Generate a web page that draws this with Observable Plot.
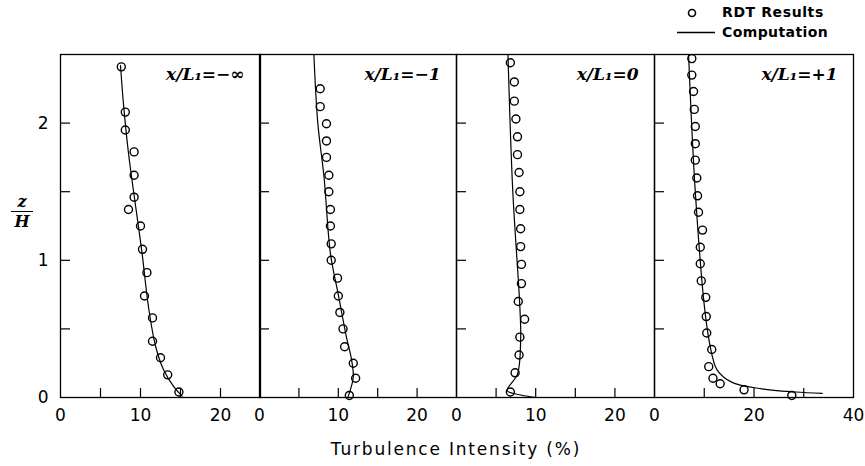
<!DOCTYPE html>
<html>
<head>
<meta charset="utf-8">
<script src="https://cdn.jsdelivr.net/npm/d3@7"></script>
<script src="https://cdn.jsdelivr.net/npm/@observablehq/plot@0.6"></script>
<style>
  body { margin: 0; background: #fff; }
  #chart { position: relative; width: 865px; height: 466px; color: #000; font-family: "DejaVu Sans", sans-serif; overflow: hidden; }
  #chart svg { position: absolute; top: 0; }
  .abs { position: absolute; white-space: nowrap; }
  .serif { font-family: "DejaVu Serif", serif; font-weight: bold; font-style: italic; }
</style>
</head>
<body>
<div id="chart">
  <svg class="legend-mark" width="865" height="45" style="left:0">
    <circle cx="692" cy="13" r="3.5" fill="none" stroke="#000" stroke-width="1.6"></circle>
    <line x1="677" x2="715" y1="32.5" y2="32.5" stroke="#000" stroke-width="1.3"></line>
  </svg>
  <div class="abs" style="left:722px; top:3px; font-size:14px; font-weight:bold; letter-spacing:0.6px; line-height:18px;">RDT Results</div>
  <div class="abs" style="left:722px; top:23px; font-size:14px; font-weight:bold; letter-spacing:0.4px; line-height:18px;">Computation</div>
  <div class="abs serif" style="left:11px; width:22px; top:193px; font-size:16px; line-height:18px; text-align:center; border-bottom:1.3px solid #000;">z</div>
  <div class="abs serif" style="left:11px; width:22px; top:213px; font-size:16px; line-height:18px; text-align:center;">H</div>
  <div class="abs" id="xtitle" style="left:456px; top:439px; transform:translateX(-50%); font-size:17px; letter-spacing:1.8px; line-height:20px;">Turbulence Intensity (%)</div>
</div>
<script>
// Panel labels (streamwise station x/L1)
const panelLabels = ["x/L₁=−∞", "x/L₁=−1", "x/L₁=0", "x/L₁=+1"];

// Axis extents and tick values for each panel
const xMaxima = [25, 25, 25, 40];
const xMinorTicks = [[5, 10, 15, 20], [5, 10, 15, 20], [5, 10, 15, 20], [10, 20, 30]];
const xTickLabels = [[0, 10, 20], [0, 10, 20], [0, 10, 20], [0, 20, 40]];
const yMinorTicks = [0.5, 1, 1.5, 2];
const yTickLabels = [0, 1, 2];

// RDT results: [turbulence intensity %, z/H]
const rdtUpstream = [[7.6,2.41],[8.1,2.08],[8.1,1.95],[9.2,1.79],[9.2,1.62],[9.2,1.46],[8.5,1.37],[10.0,1.25],[10.25,1.08],[10.8,0.91],[10.5,0.74],[11.5,0.58],[11.5,0.41],[12.5,0.29],[13.4,0.165],[14.8,0.04]];
const rdtMinus1 = [[7.7,2.25],[7.7,2.12],[8.5,1.995],[8.5,1.87],[8.5,1.75],[8.8,1.62],[8.8,1.50],[9.0,1.37],[9.0,1.25],[9.1,1.12],[9.1,1.0],[9.9,0.87],[10.0,0.74],[10.2,0.62],[10.6,0.50],[10.8,0.37],[11.9,0.25],[12.2,0.14],[11.4,0.015]];
const rdtZero = [[6.8,2.44],[7.3,2.30],[7.3,2.16],[7.5,2.03],[7.7,1.90],[7.7,1.77],[7.9,1.64],[8.0,1.50],[8.0,1.37],[8.1,1.23],[8.1,1.10],[8.2,0.97],[8.2,0.83],[7.8,0.70],[8.6,0.57],[8.0,0.44],[7.9,0.31],[7.4,0.18],[6.8,0.04]];
const rdtPlus1 = [[7.5,2.47],[7.5,2.35],[7.85,2.23],[8.0,2.10],[8.2,1.975],[8.2,1.85],[8.2,1.73],[8.5,1.60],[8.65,1.47],[8.85,1.35],[9.65,1.22],[9.2,1.095],[9.2,0.975],[9.4,0.85],[10.3,0.73],[10.4,0.59],[10.5,0.47],[11.5,0.35],[10.9,0.225],[11.75,0.14],[13.2,0.10],[18.0,0.056],[27.6,0.015]];

// Computed profiles: [turbulence intensity %, z/H]
const compUpstream = [[7.5,2.42],[7.9,2.12],[8.5,1.78],[9.4,1.39],[10.2,1.05],[11.0,0.66],[11.9,0.37],[12.9,0.2],[14.2,0.075],[15.2,0.01]];
const compMinus1 = [[6.9,2.5],[7.4,2.0],[8.2,1.6],[9.0,1.05],[10.0,0.75],[11.0,0.45],[11.7,0.27],[11.9,0.15],[11.5,0.05],[11.2,0.0]];
const compZero = [[6.5,2.5],[7.1,1.51],[8.0,0.66],[8.1,0.42],[7.7,0.17],[6.4,0.05],[8.0,0.02],[10.0,0.0]];
const compPlus1 = [[6.85,2.5],[8.2,1.5],[10.2,0.61],[11.5,0.32],[12.6,0.20],[15.6,0.11],[21.6,0.063],[28.3,0.04],[33.7,0.03]];

const rdtSets = [rdtUpstream, rdtMinus1, rdtZero, rdtPlus1];
const compSets = [compUpstream, compMinus1, compZero, compPlus1];

// Frame placement of the four side-by-side panels
const frames = [
  {left: 60, width: 200},
  {left: 259, width: 197},
  {left: 456, width: 198},
  {left: 654, width: 199}
];

const chart = document.getElementById("chart");
const intFormat = d3.format("d");

frames.forEach((f, i) => {
  const mL = i === 0 ? 60 : 20;
  const mR = 12;
  const svg = Plot.plot({
    width: f.width + mL + mR,
    height: 466,
    marginTop: 54,
    marginBottom: 69,
    marginLeft: mL,
    marginRight: mR,
    style: {background: "transparent", overflow: "visible", fontFamily: "'DejaVu Sans', sans-serif", fontSize: "17px", color: "#000"},
    x: {domain: [0, xMaxima[i]]},
    y: {domain: [0, 2.5]},
    marks: [
      Plot.frame({stroke: "#000", strokeWidth: 1.3}),
      Plot.axisX(xMinorTicks[i], {anchor: "bottom", tickSize: -9, fill: "none", label: null, strokeWidth: 1.2}),
      Plot.axisX(xTickLabels[i], {anchor: "bottom", tickSize: 0, tickPadding: 11, label: null, fontSize: 17, tickFormat: intFormat}),
      Plot.axisY(yMinorTicks, {anchor: "left", tickSize: -10, fill: "none", label: null, strokeWidth: 1.2}),
      i === 0 ? Plot.axisY(yTickLabels, {anchor: "left", tickSize: 0, tickPadding: 12, label: null, fontSize: 17, tickFormat: intFormat}) : null,
      Plot.line(compSets[i], {x: d => d[0], y: d => d[1], stroke: "#000", strokeWidth: 1.2, curve: "catmull-rom"}),
      Plot.dot(rdtSets[i], {x: d => d[0], y: d => d[1], r: 4, stroke: "#000", strokeWidth: 1.4, fill: "none"}),
      Plot.text([panelLabels[i]], {
        text: d => d, frameAnchor: "top-right", dx: -16, dy: 20, textAnchor: "end", lineAnchor: "middle",
        fontFamily: "DejaVu Serif", fontWeight: "bold", fontStyle: "italic", fontSize: 17, fill: "#000"
      })
    ]
  });
  svg.style.left = (f.left - mL) + "px";
  chart.appendChild(svg);
});
</script>
</body>
</html>
